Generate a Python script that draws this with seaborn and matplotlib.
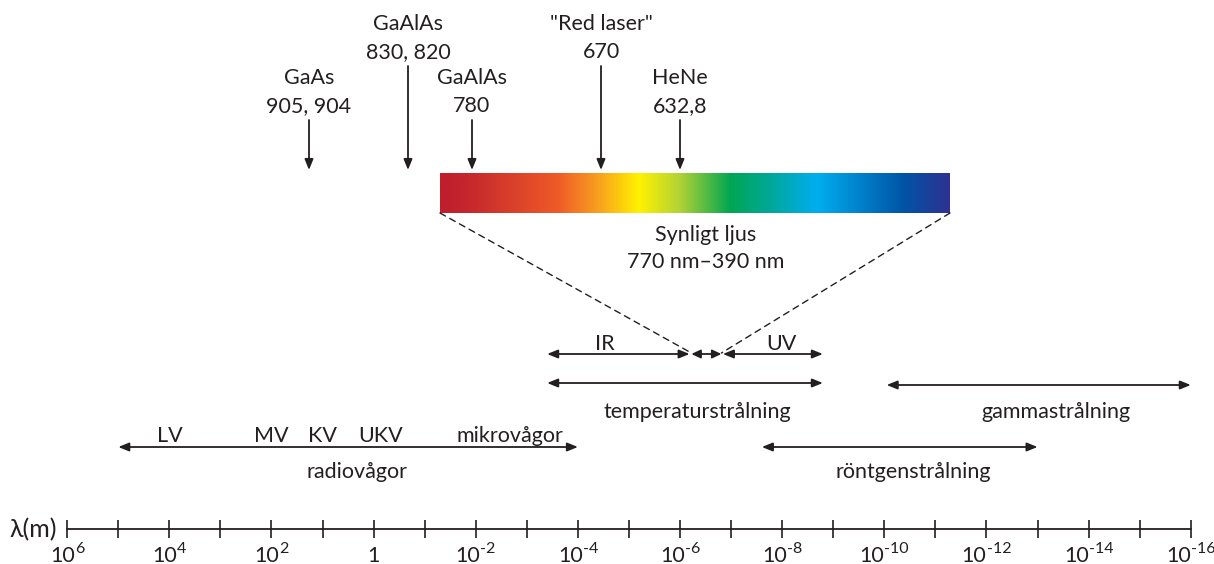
import numpy as np
import matplotlib
matplotlib.use("Agg")
import matplotlib.pyplot as plt
import seaborn as sns
from matplotlib import transforms
from matplotlib.colors import LinearSegmentedColormap
from matplotlib.patches import ConnectionPatch

# ---------------- data ----------------
tick_exponents = list(range(6, -17, -1))          # wavelength ticks, 10^k m
label_exponents = list(range(6, -17, -2))         # labelled ticks

band_names = ["radiovågor", "IR", "synligt", "UV",
              "temperaturstrålning", "röntgenstrålning", "gammastrålning"]
band_start = [1e5, 4e-4, 6.0e-7, 1.45e-7, 4e-4, 2.5e-8, 9e-11]   # m
band_end = [1e-4, 6.5e-7, 1.55e-7, 1.6e-9, 1.6e-9, 1e-13, 1e-16]  # m

radio_sub = ["LV", "MV", "KV", "UKV", "mikrovågor"]
radio_sub_lambda = [1e4, 1e2, 1e1, 0.74, 2.1e-3]                 # m

laser_names = ["GaAs", "GaAlAs", "GaAlAs", '"Red laser"', "HeNe"]
laser_nm = ["905, 904", "830, 820", "780", "670", "632,8"]

visible_title = "Synligt ljus"
visible_range = "770 nm\u2013390 nm"
spectrum_colors = ["#BE1E2D", "#C4262D", "#EF5A28", "#F8A01E", "#FFF200",
                   "#B2D235", "#00A651", "#00A89A", "#00AEEF", "#0054A6", "#2E3192"]
spectrum_stops = [0.0, 0.05, 0.23, 0.31, 0.39, 0.47, 0.57, 0.65, 0.74, 0.91, 1.0]

# ---------------- layout ----------------
W, H = 1214, 564
INK = "#231F20"
sns.set_theme(style="white")
plt.rcParams["font.family"] = ["Lato", "DejaVu Sans"]

fig = plt.figure(figsize=(W / 100, H / 100), dpi=100)
ax = fig.add_axes([0, 0, 1, 1])
ax.set_xscale("log")
ax.set_xlim(10 ** 7.316, 10 ** -16.455)
ax.set_ylim(H, 0)
ax.axis("off")
px = transforms.blended_transform_factory(ax.transAxes, ax.transData)  # x fraction, y data

FS = 15.5
SUP = 11.5
renderer = fig.canvas.get_renderer()

# axis line with ticks
axis_y = 529
sns.lineplot(x=[10.0 ** tick_exponents[0], 10.0 ** tick_exponents[-1]], y=[axis_y, axis_y],
             ax=ax, color=INK, lw=1.3, sort=False)
ax.vlines(10.0 ** np.array(tick_exponents, dtype=float), axis_y - 9, axis_y + 9, color=INK, lw=1.2)

for e in label_exponents:
    x = 10.0 ** e
    if e == 0:
        ax.text(x, 562, "1", ha="center", va="baseline", fontsize=FS, color=INK)
        continue
    base = ax.text(x, 562, "10", ha="left", va="baseline", fontsize=FS, color=INK)
    sup = ax.text(x, 553, str(e), ha="left", va="baseline", fontsize=SUP, color=INK)
    wb = base.get_window_extent(renderer).width
    ws = sup.get_window_extent(renderer).width
    total = wb + ws
    base.set_transform(transforms.offset_copy(ax.transData, fig, x=-total / 2, y=0, units="dots"))
    sup.set_transform(transforms.offset_copy(ax.transData, fig, x=-total / 2 + wb, y=0, units="dots"))

ax.text(57 / W, 537, "\u03bb(m)", transform=px, ha="right", va="baseline", fontsize=18, color=INK)

# band arrows
band_y = {"radiovågor": 447, "IR": 354, "synligt": 354, "UV": 354,
          "temperaturstrålning": 383, "röntgenstrålning": 447, "gammastrålning": 385}
label_pos = {"radiovågor": (357, 478), "IR": (605, 350), "UV": (781, 350),
             "temperaturstrålning": (697, 418), "röntgenstrålning": (913, 478),
             "gammastrålning": (1056, 418)}
for name, s, e in zip(band_names, band_start, band_end):
    y = band_y[name]
    hl = 0.42 if name != "synligt" else 0.36
    ax.annotate("", xy=(e, y), xytext=(s, y),
                arrowprops=dict(arrowstyle="<|-|>,head_length=%.2f,head_width=0.17" % hl,
                                mutation_scale=15, lw=1.3, color=INK, shrinkA=0, shrinkB=0))
    if name in label_pos:
        lx, ly = label_pos[name]
        ax.text(lx / W, ly, name, transform=px, ha="center", va="baseline", fontsize=FS, color=INK)

for name, lam in zip(radio_sub, radio_sub_lambda):
    ax.text(lam, 442, name, ha="center", va="baseline", fontsize=FS, color=INK)

# visible spectrum inset
bax = fig.add_axes([440 / W, 1 - 213 / H, 510 / W, 40 / H])
cmap = LinearSegmentedColormap.from_list("vis", list(zip(spectrum_stops, spectrum_colors)))
bax.imshow(np.linspace(0, 1, 1024)[None, :], aspect="auto", cmap=cmap)
bax.axis("off")

vi = band_names.index("synligt")
for xa, lam in [(0, band_start[vi]), (1, band_end[vi])]:
    con = ConnectionPatch(xyA=(xa, 0), coordsA=bax.transAxes,
                          xyB=(lam, band_y["synligt"] - 1), coordsB=ax.transData,
                          linestyle=(0, (4.5, 3.5)), lw=1.0, color=INK)
    fig.add_artist(con)

ax.text(706 / W, 241, visible_title, transform=px, ha="center", va="baseline", fontsize=FS, color=INK)
ax.text(706 / W, 268, visible_range, transform=px, ha="center", va="baseline", fontsize=FS, color=INK)

# laser annotations (layout positions above the spectrum bar)
laser_x = [309, 408, 472, 601, 680]
laser_row = [1, 0, 1, 0, 1]          # 0 = upper row, 1 = lower row
row_base = {0: (30, 58, 66), 1: (84, 112, 120)}
for name, nm, x, r in zip(laser_names, laser_nm, laser_x, laser_row):
    b1, b2, top = row_base[r]
    ax.text(x / W, b1, name, transform=px, ha="center", va="baseline", fontsize=FS, color=INK)
    ax.text(x / W, b2, nm, transform=px, ha="center", va="baseline", fontsize=FS, color=INK)
    ax.annotate("", xy=(x / W, 170), xytext=(x / W, top), xycoords=px, textcoords=px,
                arrowprops=dict(arrowstyle="-|>,head_length=0.42,head_width=0.17",
                                mutation_scale=15, lw=1.3, color=INK, shrinkA=0, shrinkB=0))

fig.savefig("out.png", dpi=100, facecolor="white")
